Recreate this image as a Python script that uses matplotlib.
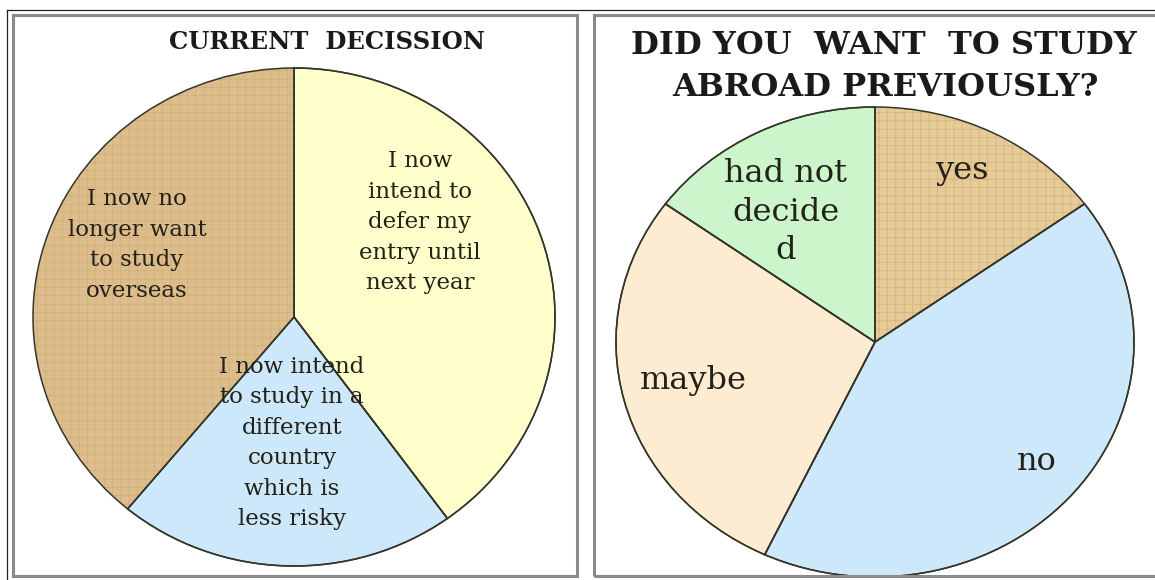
import matplotlib.pyplot as plt
from matplotlib.patches import Rectangle
from matplotlib.lines import Line2D

# left chart: current decision
left_labels = ['I now\nintend to\ndefer my\nentry until\nnext year',
               'I now intend\nto study in a\ndifferent\ncountry\nwhich is\nless risky',
               'I now no\nlonger want\nto study\noverseas']
left_values = [40, 21, 39]
left_colors = ['#FFFFCC', '#CCE8FA', '#DDBD8C']

# right chart: wanted to study abroad previously
right_labels = ['yes', 'no', 'maybe', 'had not\ndecide\nd']
right_values = [15, 42, 28, 15]
right_colors = ['#E6CB98', '#CCE8FA', '#FDEBD2', '#CCF5CC']

W, H = 1155, 580
plt.rcParams['hatch.linewidth'] = 0.4
fig = plt.figure(figsize=(W / 100, H / 100), dpi=100)
fig.patch.set_facecolor('white')


def fx(px):
    return px / W


def fy(py):
    return 1 - py / H


# outer frame lines and panel borders
fig.add_artist(Line2D([fx(7), 1], [fy(10), fy(10)], color='#222222', lw=0.9))
fig.add_artist(Line2D([fx(7), fx(7)], [fy(10), 0], color='#222222', lw=0.9))
for x0, x1 in [(13, 577), (594, 1165)]:
    fig.add_artist(Rectangle((fx(x0), fy(576)), fx(x1 - x0), (576 - 15) / H,
                             fill=False, edgecolor='#8a8a8a', lw=2.2))

serif = ['DejaVu Serif']
edge = dict(edgecolor='#35352a', linewidth=1.1)


def make_pie(rect, values, colors, textured):
    ax = fig.add_axes(rect)
    wedges, _ = ax.pie(values, colors=colors, startangle=90,
                       counterclock=False, wedgeprops=edge, radius=1)
    # paper-like texture on the tan slice
    w = wedges[textured]
    w.set_hatch('++')
    w.set_edgecolor('#cfab76')
    w.set_linewidth(0)
    ax.pie(values, colors=['none'] * len(values), startangle=90,
           counterclock=False, wedgeprops=edge, radius=1)
    ax.set_aspect('auto')
    ax.set_xlim(-1, 1)
    ax.set_ylim(-1, 1)
    ax.axis('off')
    return ax


# left pie spans x 33..555, y 68..566 px
axl = make_pie([fx(33), fy(566), fx(522), 498 / H], left_values, left_colors, 2)
# right pie spans x 616..1134, y 107..577 px
axr = make_pie([fx(616), fy(577), fx(518), 470 / H], right_values, right_colors, 0)

lab = dict(family=serif, color='#222218', ha='center', va='center')
fig.text(fx(420), fy(222), left_labels[0], fontsize=16.5, linespacing=1.5, **lab)
fig.text(fx(292), fy(443), left_labels[1], fontsize=16.5, linespacing=1.5, **lab)
fig.text(fx(137), fy(245), left_labels[2], fontsize=16.5, linespacing=1.5, **lab)

fig.text(fx(962), fy(170), right_labels[0], fontsize=23, **lab)
fig.text(fx(1037), fy(462), right_labels[1], fontsize=23, **lab)
fig.text(fx(693), fy(381), right_labels[2], fontsize=23, **lab)
fig.text(fx(786), fy(212), right_labels[3], fontsize=23, linespacing=1.3, **lab)

fig.text(fx(327), fy(42), 'CURRENT  DECISSION', fontsize=17.5, fontweight='bold',
         family=serif, ha='center', va='center', color='#1a1a1a')
fig.text(fx(884), fy(46), 'DID YOU  WANT  TO STUDY', fontsize=23,
         fontweight='bold', family=serif, ha='center', va='center', color='#1a1a1a')
fig.text(fx(885), fy(87), 'ABROAD PREVIOUSLY?', fontsize=23,
         fontweight='bold', family=serif, ha='center', va='center', color='#1a1a1a')

fig.savefig('out.png', dpi=100)
